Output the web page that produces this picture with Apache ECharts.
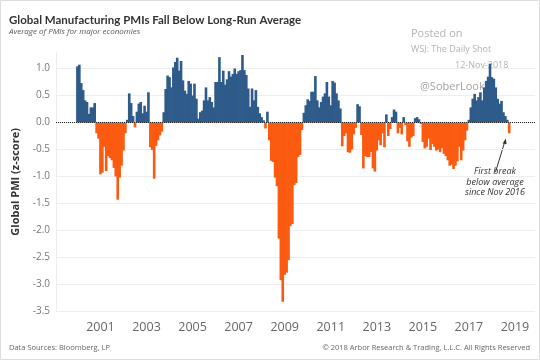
<!DOCTYPE html>
<html><head><meta charset="utf-8">
<script src="https://cdn.jsdelivr.net/npm/echarts@6/dist/echarts.min.js"></script>
<style>html,body{margin:0;padding:0;background:#fff}#c{width:540px;height:360px}</style>
</head><body><div id="c"></div>
<script>
// Monthly global manufacturing PMI z-scores, Jan..Dec of each year (2018: Jan..Oct)
const pmi2000 = [1.04, 1.07, 0.73, 0.60, 0.41, 0.38, 0.16, 0.28, 0.28, 0.36, -0.20, -0.30];
const pmi2001 = [-0.96, -0.93, -0.45, -0.90, -0.62, -0.66, -0.70, -0.84, -1.00, -1.43, -1.02, -0.80];
const pmi2002 = [-0.52, -0.20, 0.05, 0.54, 0.36, 0.12, -0.09, 0.20, 0.35, 0.38, 0.17, 0.31];
const pmi2003 = [0.20, 0.56, -0.46, -0.51, -1.04, -0.43, -0.33, -0.24, -0.17, 0.19, 0.62, 0.87];
const pmi2004 = [0.84, 0.65, 1.02, 1.12, 1.20, 0.96, 1.14, 0.78, 0.59, 0.53, 0.77, 0.72];
const pmi2005 = [0.50, 0.72, 0.44, 0.07, 0.19, 0.22, 0.41, 0.65, 0.41, 0.47, 0.38, 0.28];
const pmi2006 = [0.75, 0.75, 1.21, 0.75, 0.96, 0.70, 0.80, 0.95, 0.85, 0.90, 1.00, 0.90];
const pmi2007 = [0.95, 0.97, 1.25, 0.97, 0.88, 0.63, 0.29, 0.63, 0.41, 0.60, 0.29, 0.17];
const pmi2008 = [0.10, 0.04, -0.11, 0.20, -0.33, -0.71, -0.73, -1.02, -1.18, -2.15, -2.92, -3.32];
const pmi2009 = [-2.82, -2.78, -2.55, -1.92, -1.88, -1.16, -1.12, -0.64, -0.60, -0.14, 0.18, 0.32];
const pmi2010 = [0.43, 0.40, 0.57, 0.57, 0.86, 0.41, 0.28, 0.38, 0.48, 0.54, 0.75, 0.48];
const pmi2011 = [0.32, 0.77, 0.74, 0.54, 0.41, 0.26, -0.44, -0.25, -0.20, -0.55, -0.56, -0.50];
const pmi2012 = [-0.22, -0.10, 0.34, 0.30, -0.23, -0.85, -0.62, -0.64, -0.64, -0.55, -0.85, -0.91];
const pmi2013 = [-0.52, -0.33, -0.42, -0.20, -0.46, 0.15, -0.25, -0.12, 0.10, 0.24, 0.20, -0.20];
const pmi2014 = [-0.10, -0.22, 0.10, -0.05, -0.35, -0.45, -0.28, -0.25, 0.08, 0.10, 0.06, -0.03];
const pmi2015 = [-0.36, -0.48, -0.45, -0.30, -0.51, -0.40, -0.45, -0.52, -0.50, -0.55, -0.47, -0.58];
const pmi2016 = [-0.62, -0.70, -0.80, -0.78, -0.86, -0.80, -0.72, -0.45, -0.70, -0.52, -0.33, -0.15];
const pmi2017 = [0.05, 0.28, 0.44, 0.53, 0.41, 0.47, 0.56, 0.41, 0.65, 0.77, 0.85, 1.09];
const pmi2018 = [0.84, 0.81, 0.65, 0.44, 0.35, 0.40, 0.19, 0.12, 0.05, -0.20];

const firstYear = 2000;
const years = [pmi2000, pmi2001, pmi2002, pmi2003, pmi2004, pmi2005, pmi2006, pmi2007, pmi2008,
  pmi2009, pmi2010, pmi2011, pmi2012, pmi2013, pmi2014, pmi2015, pmi2016, pmi2017, pmi2018];
const xTickLabels = [2001, 2003, 2005, 2007, 2009, 2011, 2013, 2015, 2017, 2019];
const yTickLabels = [-3.5, -3.0, -2.5, -2.0, -1.5, -1.0, -0.5, 0.0, 0.5, 1.0];
const titleText = 'Global Manufacturing PMIs Fall Below Long-Run Average';
const subtitleText = 'Average of PMIs for major economies';
const noteLines = ['First break', 'below average', 'since Nov 2016'];

const BLUE = '#2e5b8a', ORANGE = '#fa5b10';
const data = [];
years.forEach((arr, yi) => arr.forEach((v, m) => data.push([firstYear + yi + m / 12, v])));

// Bars drawn through the axis scales; a touch wider than one month so adjacent bars join seamlessly
function renderBar(params, api) {
  const x = api.value(0), y = api.value(1);
  const top = api.coord([x, y]);
  const base = api.coord([x, 0]);
  const w = api.size([1 / 12, 0])[0] + 0.7;
  return {
    type: 'rect',
    shape: {x: top[0] - w / 2, y: Math.min(top[1], base[1]), width: w, height: Math.abs(base[1] - top[1])},
    style: {fill: y >= 0 ? BLUE : ORANGE}
  };
}

const chart = echarts.init(document.getElementById('c'), null, {renderer: 'canvas'});
const FONT = 'Open Sans';
chart.setOption({
  animation: false,
  grid: {left: 56, right: 5, top: 52.3, bottom: 48.5},
  xAxis: {
    type: 'value', min: 1999.07, max: 2019.87,
    axisLine: {show: false}, axisTick: {show: false}, splitLine: {show: false},
    axisLabel: {customValues: xTickLabels, formatter: v => String(Math.round(v)),
      color: '#666', fontSize: 12.5, fontFamily: FONT, margin: 9}
  },
  yAxis: {
    type: 'value', min: -3.5, max: 1.3,
    axisLine: {show: true, lineStyle: {color: '#ececec'}},
    axisTick: {show: false, customValues: yTickLabels},
    axisLabel: {customValues: yTickLabels, formatter: v => v.toFixed(1),
      color: '#777', fontSize: 10, fontFamily: FONT, margin: 6},
    splitLine: {lineStyle: {color: '#eeeeee', width: 1}},
    name: 'Global PMI (z-score)', nameLocation: 'middle', nameGap: 33,
    nameTextStyle: {color: '#333', fontSize: 11, fontWeight: 'bold', fontFamily: FONT}
  },
  series: [{
    type: 'custom', name: 'Global PMI', data: data, renderItem: renderBar,
    encode: {x: 0, y: 1},
    markLine: {silent: true, symbol: 'none', label: {show: false},
      lineStyle: {type: 'dotted', color: '#222', width: 1}, data: [{yAxis: 0}]}
  }],
  graphic: [
    {type: 'rect', shape: {x: 0.5, y: 0.5, width: 539, height: 359}, style: {fill: 'none', stroke: '#dddddd'}},
    {type: 'text', left: 9, top: 14, style: {text: titleText, font: 'bold 11.5px Lato', fill: '#333'}},
    {type: 'text', left: 9, top: 28, style: {text: subtitleText, font: 'italic 8px ' + FONT, fill: '#555'}},
    {type: 'text', left: 411, top: 28, style: {text: 'Posted on', font: '11px ' + FONT, fill: '#b3b3b3'}},
    {type: 'text', left: 411, top: 45, style: {text: 'WSJ: The Daily Shot', font: '9px ' + FONT, fill: '#b3b3b3'}},
    {type: 'text', left: 455, top: 61, style: {text: '12-Nov-2018', font: '9px ' + FONT, fill: '#b3b3b3'}},
    {type: 'text', left: 420, top: 81, style: {text: '@SoberLook', font: '11px ' + FONT, fill: '#a0a0a0'}},
    {type: 'text', x: 495, y: 182, style: {text: noteLines.join('\n'), font: 'italic 9px ' + FONT, fill: '#333',
      align: 'center', verticalAlign: 'middle', lineHeight: 10.5}},
    {type: 'line', shape: {x1: 495.5, y1: 172, x2: 505, y2: 141}, style: {stroke: '#333', lineWidth: 1}},
    {type: 'polygon', shape: {points: [[505.8, 138.5], [502.6, 143.5], [506.6, 144.3]]}, style: {fill: '#333'}},
    {type: 'text', left: 9, top: 344, style: {text: 'Data Sources: Bloomberg, LP', font: '7.5px ' + FONT, fill: '#666'}},
    {type: 'text', right: 10, top: 344, style: {text: '\u00a9 2018 Arbor Research & Trading, L.L.C. All Rights Reserved', font: '7.5px ' + FONT, fill: '#666'}}
  ]
});
</script></body></html>
